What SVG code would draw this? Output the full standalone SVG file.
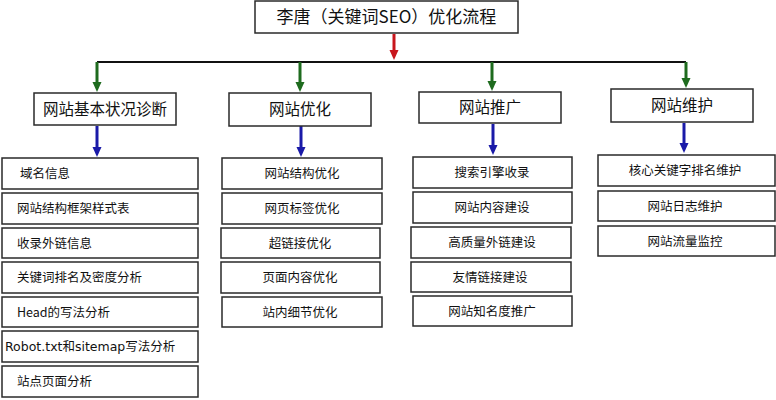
<svg xmlns="http://www.w3.org/2000/svg" width="776" height="400" viewBox="0 0 776 400">
<style>
.box{fill:#fff;stroke:#2a2a2a;stroke-width:1.5}
.t{font-family:"Noto Sans CJK SC","Noto Sans",sans-serif;fill:#111}
.t0{font-size:17px;text-anchor:middle}
.t1{font-size:15.5px;text-anchor:middle}
.t2{font-size:12.5px}
.c{text-anchor:middle}
.lat{font-family:"DejaVu Sans",sans-serif}
.ar{fill:none;stroke-width:3}
</style>
<defs>
<marker id="hr" markerUnits="userSpaceOnUse" markerWidth="10" markerHeight="10" viewBox="0 0 10 10" refX="4" refY="5" orient="auto"><path d="M0,0.5 L10,5 L0,9.5 z" fill="#c8161d"/></marker>
<marker id="hg" markerUnits="userSpaceOnUse" markerWidth="10" markerHeight="10" viewBox="0 0 10 10" refX="4" refY="5" orient="auto"><path d="M0,0.5 L10,5 L0,9.5 z" fill="#1e6b1e"/></marker>
<marker id="hb" markerUnits="userSpaceOnUse" markerWidth="10" markerHeight="10" viewBox="0 0 10 10" refX="4" refY="5" orient="auto"><path d="M0,0.5 L10,5 L0,9.5 z" fill="#1a1aa8"/></marker>
</defs>
<rect width="776" height="400" fill="#fff"/>
<g id="connectors">
<line x1="97" y1="62" x2="686" y2="62" stroke="#111" stroke-width="2"/>
<line class="ar" x1="394" y1="34" x2="394" y2="54" stroke="#c8161d" marker-end="url(#hr)"/>
<line class="ar" x1="97" y1="62" x2="97" y2="86" stroke="#1e6b1e" marker-end="url(#hg)"/>
<line class="ar" x1="300" y1="62" x2="300" y2="86" stroke="#1e6b1e" marker-end="url(#hg)"/>
<line class="ar" x1="492" y1="62" x2="492" y2="85" stroke="#1e6b1e" marker-end="url(#hg)"/>
<line class="ar" x1="686" y1="62" x2="686" y2="82" stroke="#1e6b1e" marker-end="url(#hg)"/>
<line class="ar" x1="97" y1="126" x2="97" y2="151" stroke="#1a1aa8" marker-end="url(#hb)"/>
<line class="ar" x1="301" y1="126" x2="301" y2="151" stroke="#1a1aa8" marker-end="url(#hb)"/>
<line class="ar" x1="493" y1="124" x2="493" y2="149" stroke="#1a1aa8" marker-end="url(#hb)"/>
<line class="ar" x1="684" y1="123" x2="684" y2="147" stroke="#1a1aa8" marker-end="url(#hb)"/>
</g>
<g id="title"><rect class="box" x="255" y="1" width="263" height="32"/><text class="t t0" x="386.5" y="23">李唐（关键词SEO）优化流程</text></g>
<g id="n1"><rect class="box" x="34" y="93" width="142" height="32"/><text class="t t1" x="105" y="114.5">网站基本状况诊断</text></g>
<g id="n2"><rect class="box" x="229" y="93" width="142" height="33"/><text class="t t1" x="300" y="115">网站优化</text></g>
<g id="n3"><rect class="box" x="419" y="92" width="142" height="31"/><text class="t t1" x="490" y="113">网站推广</text></g>
<g id="n4"><rect class="box" x="611" y="89" width="142" height="33"/><text class="t t1" x="682" y="110.5">网站维护</text></g>
<g id="a1"><rect class="box" x="2" y="158" width="196" height="31"/><text class="t t2" x="20" y="178">域名信息</text></g>
<g id="a2"><rect class="box" x="2" y="193" width="196" height="31"/><text class="t t2" x="17" y="213">网站结构框架样式表</text></g>
<g id="a3"><rect class="box" x="2" y="228" width="196" height="30"/><text class="t t2" x="17" y="247.5">收录外链信息</text></g>
<g id="a4"><rect class="box" x="2" y="262" width="196" height="31"/><text class="t t2" x="17" y="282">关键词排名及密度分析</text></g>
<g id="a5"><rect class="box" x="2" y="297" width="196" height="30"/><text class="t t2" x="17" y="316.5">Head的写法分析</text></g>
<g id="a6"><rect class="box" x="2" y="331" width="196" height="31"/><text class="t t2" x="5" y="351"><tspan class="lat">Robot.txt</tspan>和<tspan class="lat">sitemap</tspan>写法分析</text></g>
<g id="a7"><rect class="box" x="2" y="366" width="196" height="31"/><text class="t t2" x="17" y="386">站点页面分析</text></g>
<g id="b1"><rect class="box" x="222" y="158" width="160" height="31"/><text class="t t2 c" x="302" y="178">网站结构优化</text></g>
<g id="b2"><rect class="box" x="222" y="193" width="160" height="31"/><text class="t t2 c" x="302" y="213">网页标签优化</text></g>
<g id="b3"><rect class="box" x="221" y="228" width="159" height="30"/><text class="t t2 c" x="300" y="247.5">超链接优化</text></g>
<g id="b4"><rect class="box" x="221" y="262" width="159" height="31"/><text class="t t2 c" x="300" y="282">页面内容优化</text></g>
<g id="b5"><rect class="box" x="222" y="297" width="160" height="30"/><text class="t t2 c" x="300" y="316.5">站内细节优化</text></g>
<g id="c1"><rect class="box" x="413" y="157" width="159" height="31"/><text class="t t2 c" x="492" y="177">搜索引擎收录</text></g>
<g id="c2"><rect class="box" x="413" y="192" width="159" height="31"/><text class="t t2 c" x="492" y="212">网站内容建设</text></g>
<g id="c3"><rect class="box" x="411" y="227" width="160" height="31"/><text class="t t2 c" x="492" y="247">高质量外链建设</text></g>
<g id="c4"><rect class="box" x="411" y="262" width="160" height="30"/><text class="t t2 c" x="490" y="281.5">友情链接建设</text></g>
<g id="c5"><rect class="box" x="413" y="296" width="159" height="30"/><text class="t t2 c" x="492" y="315.5">网站知名度推广</text></g>
<g id="d1"><rect class="box" x="598" y="155" width="177" height="31"/><text class="t t2 c" x="685" y="175">核心关键字排名维护</text></g>
<g id="d2"><rect class="box" x="598" y="191" width="177" height="30"/><text class="t t2 c" x="685" y="210.5">网站日志维护</text></g>
<g id="d3"><rect class="box" x="598" y="226" width="177" height="30"/><text class="t t2 c" x="685" y="245.5">网站流量监控</text></g>
</svg>
